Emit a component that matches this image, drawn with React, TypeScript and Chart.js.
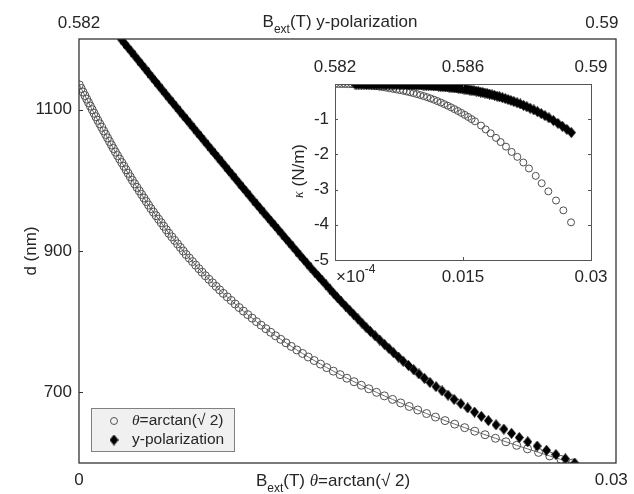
import React, { useEffect, useRef } from 'react';
import { Chart, registerables } from 'chart.js';

Chart.register(...registerables);

// ---------- data: theta = arctan(sqrt 2), main plot (B_ext bottom axis, d in nm) ----------
const circleB = [
  0.0000205, 0.000123, 0.000226, 0.000328, 0.000431, 0.000533, 0.000636, 0.000738, 0.000841, 0.000944,
  0.001049, 0.001158, 0.001268, 0.001377, 0.001486, 0.001596, 0.001705, 0.001814, 0.001923,
  0.002036, 0.002154, 0.002272, 0.002391, 0.002509, 0.002627, 0.002746, 0.002864, 0.002982,
  0.00311, 0.003239, 0.003369, 0.003498, 0.003627, 0.003757, 0.003886,
  0.004017, 0.004161, 0.004304, 0.004448, 0.004591, 0.004735, 0.004878,
  0.005024, 0.005184, 0.005344, 0.005504, 0.005664, 0.005824, 0.005984,
  0.006161, 0.006339, 0.006518, 0.006696, 0.006875,
  0.00706, 0.007259, 0.007458, 0.007657, 0.007857,
  0.008062, 0.008283, 0.008503, 0.008724, 0.008945,
  0.009183, 0.009427, 0.009671, 0.009915,
  0.010174, 0.010442, 0.01071, 0.010979,
  0.011271, 0.011565, 0.011859,
  0.012167, 0.012487, 0.012808,
  0.01314, 0.013491, 0.013842,
  0.014208, 0.014587, 0.014966,
  0.015368, 0.015773, 0.01619, 0.016623,
  0.017059, 0.017516, 0.017973, 0.018448, 0.018924, 0.019418, 0.019915,
  0.020449, 0.020989, 0.021547, 0.022109, 0.022684, 0.023265, 0.023853,
  0.024452, 0.025056, 0.025673, 0.026296, 0.026925, 0.027562,
];
const circleD = [
  1135, 1130, 1125, 1120, 1115, 1110, 1105, 1100, 1095, 1090,
  1085, 1080, 1075, 1070, 1065, 1060, 1055, 1050, 1045,
  1040, 1035, 1030, 1025, 1020, 1015, 1010, 1005, 1000,
  995, 990, 985, 980, 975, 970, 965,
  960, 955, 950, 945, 940, 935, 930,
  925, 920, 915, 910, 905, 900, 895,
  890, 885, 880, 875, 870,
  865, 860, 855, 850, 845,
  840, 835, 830, 825, 820,
  815, 810, 805, 800,
  795, 790, 785, 780,
  775, 770, 765,
  760, 755, 750,
  745, 740, 735,
  730, 725, 720,
  715, 710, 705, 700,
  695, 690, 685, 680, 675, 670, 665,
  660, 655, 650, 645, 640, 635, 630,
  625, 620, 615, 610, 605, 600,
];

// ---------- data: y-polarization, main plot (B_ext top axis, d in nm) ----------
const diamondB = [
  0.582626, 0.582677, 0.582728, 0.58278, 0.582831, 0.582882, 0.582933, 0.582984, 0.583035, 0.583087,
  0.583138, 0.583189, 0.58324, 0.583291, 0.583342,
  0.583394, 0.583446, 0.583499, 0.583551, 0.583603, 0.583655, 0.583707, 0.583759, 0.583811, 0.583864,
  0.583916, 0.583968, 0.58402, 0.584072, 0.584124, 0.584177, 0.584229, 0.584281, 0.584333, 0.584385,
  0.584437, 0.58449, 0.584542,
  0.584594, 0.584648, 0.584701, 0.584755, 0.584809, 0.584863, 0.584916, 0.58497, 0.585024, 0.585077,
  0.585131, 0.585185, 0.585239, 0.585292, 0.585346, 0.5854,
  0.585454, 0.585511, 0.585568, 0.585624, 0.585681, 0.585738, 0.585794, 0.585851,
  0.58591, 0.585971, 0.586032, 0.586093, 0.586155, 0.586216, 0.586277,
  0.586341, 0.586411, 0.58648, 0.586549, 0.586618, 0.586687, 0.586757,
  0.586829, 0.586908, 0.586986, 0.587065, 0.587144,
  0.587229, 0.587319, 0.587409, 0.587498, 0.587588,
  0.587688, 0.58779, 0.587892, 0.587994,
  0.588098, 0.588213, 0.588329, 0.588444, 0.588559,
  0.588685, 0.588825, 0.588965, 0.589105, 0.589245, 0.589385,
];
const diamondD = [
  1200, 1194, 1188, 1182, 1176, 1170, 1164, 1158, 1152, 1146,
  1140, 1134, 1128, 1122, 1116,
  1110, 1104, 1098, 1092, 1086, 1080, 1074, 1068, 1062, 1056,
  1050, 1044, 1038, 1032, 1026, 1020, 1014, 1008, 1002, 996,
  990, 984, 978,
  972, 966, 960, 954, 948, 942, 936, 930, 924, 918,
  912, 906, 900, 894, 888, 882,
  876, 870, 864, 858, 852, 846, 840, 834,
  828, 822, 816, 810, 804, 798, 792,
  786, 780, 774, 768, 762, 756, 750,
  744, 738, 732, 726, 720,
  714, 708, 702, 696, 690,
  684, 678, 672, 666,
  660, 654, 648, 642, 636,
  630, 624, 618, 612, 606, 600,
];

// ---------- inset: kappa (N/m, x1e-4) ----------
const insetCircleB = [
  0, 0.0004, 0.0008, 0.0012, 0.0016, 0.002, 0.0024, 0.0028, 0.0032, 0.0036,
  0.004, 0.0044, 0.0048, 0.0052, 0.0056, 0.006, 0.0064, 0.0068, 0.0072, 0.0076,
  0.008, 0.0084, 0.0088, 0.0092, 0.0096, 0.01, 0.0104, 0.0108, 0.0112, 0.0116,
  0.012, 0.0124, 0.0128, 0.0132, 0.0136, 0.014, 0.0144, 0.0148, 0.0152, 0.0156,
  0.016, 0.0164,
  0.01711, 0.01766, 0.01824, 0.01887, 0.01941, 0.02004, 0.0207, 0.02137, 0.02207, 0.02273,
  0.02352, 0.02422, 0.025, 0.0259, 0.02676, 0.02766,
];
const insetCircleK = [
  0, -0.0001, -0.0006, -0.0015, -0.0032, -0.0055, -0.009, -0.014, -0.02, -0.03,
  -0.04, -0.05, -0.063, -0.076, -0.09, -0.105, -0.12, -0.137, -0.155, -0.173,
  -0.193, -0.214, -0.237, -0.261, -0.287, -0.315, -0.344, -0.375, -0.41, -0.446,
  -0.486, -0.527, -0.571, -0.616, -0.664, -0.714, -0.766, -0.82, -0.877, -0.936,
  -0.997, -1.06,
  -1.18, -1.29, -1.4, -1.53, -1.65, -1.78, -1.93, -2.07, -2.23, -2.4,
  -2.61, -2.82, -3.05, -3.31, -3.59, -3.93,
];
const insetDiamondK = [
  0, 0, 0, 0, 0, 0, 0, 0, 0, 0,
  0, 0, 0, 0, 0,
  -0.001, -0.0013, -0.0016, -0.002, -0.0023, -0.0028, -0.0033, -0.0038, -0.0044, -0.005,
  -0.0059, -0.0067, -0.0076, -0.0085, -0.0096, -0.0107, -0.012, -0.0133, -0.0147, -0.0163,
  -0.0179, -0.0197, -0.0216,
  -0.0236, -0.0258, -0.028, -0.0305, -0.0332, -0.0359, -0.0388, -0.0419, -0.0452, -0.0486,
  -0.0522, -0.056, -0.06, -0.0641, -0.0685, -0.0731,
  -0.0779, -0.0831, -0.0888, -0.0944, -0.1005, -0.1068, -0.1133, -0.1201,
  -0.1275, -0.1356, -0.1438, -0.1525, -0.1617, -0.1711, -0.1808,
  -0.1915, -0.2038, -0.2164, -0.2294, -0.243, -0.257, -0.2718,
  -0.2878, -0.3061, -0.3248, -0.3447, -0.3654,
  -0.3885, -0.4141, -0.4409, -0.4686, -0.4978,
  -0.5317, -0.568, -0.6057, -0.6452,
  -0.6874, -0.7362, -0.7879, -0.8415, -0.8976,
  -0.9619, -1.0375, -1.117, -1.2003, -1.288, -1.38,
];

// ---------- ticks ----------
const mainXTicks = [0, 0.03];
const mainXLabels = ['0', '0.03  '];
const mainX2Ticks = [0.582, 0.59];
const mainX2Labels = ['0.582', '0.59      '];
const mainYTicks = [700, 900, 1100];
const mainYLabels = ['700', '900', '1100'];
const insetXTicks = [0, 0.015, 0.03];
const insetXLabels = ['', '0.015', '0.03'];
const insetX2Ticks = [0.582, 0.586, 0.59];
const insetX2Labels = ['0.582', '0.586', '0.59'];
const insetYTicks = [-5, -4, -3, -2, -1, 0];
const insetYLabels = ['-5', '-4', '-3', '-2', '-1', ''];

const seriesLabels = ['θ=arctan(√ 2)', 'y-polarization'];

const SANS = "'Liberation Sans', Arial, Helvetica, sans-serif";
const SERIF = "'Liberation Serif', 'Times New Roman', serif";
const INK = '#262626';
const FS = 17;

type Seg = { t: string; f: string; dy?: number };
function drawRich(ctx: CanvasRenderingContext2D, segs: Seg[], x: number, y: number, align: 'left' | 'center') {
  let w = 0;
  for (const s of segs) { ctx.font = s.f; w += ctx.measureText(s.t).width; }
  let cx = align === 'center' ? x - w / 2 : x;
  ctx.textAlign = 'left';
  for (const s of segs) {
    ctx.font = s.f;
    ctx.fillText(s.t, cx, y + (s.dy || 0));
    cx += ctx.measureText(s.t).width;
  }
}

function makeDiamond(w: number, h: number, color: string) {
  const c = document.createElement('canvas');
  c.width = w; c.height = h;
  const g = c.getContext('2d')!;
  g.fillStyle = color;
  g.beginPath();
  g.moveTo(w / 2, 0); g.lineTo(w, h / 2); g.lineTo(w / 2, h); g.lineTo(0, h / 2);
  g.closePath(); g.fill();
  return c;
}

function axis(ticks: number[], labels: string[], pad: number, min: number, max: number, position: string, fit: { w?: number; h?: number }) {
  return {
    type: 'linear',
    position,
    min, max,
    grid: { display: false, drawTicks: false },
    border: { display: false },
    ticks: {
      padding: pad, color: INK, font: { family: SANS, size: FS },
      autoSkip: false, maxRotation: 0, minRotation: 0,
      callback: (_v: any, i: number) => labels[i] ?? '',
    },
    afterBuildTicks: (s: any) => { s.ticks = ticks.map((v) => ({ value: v })); },
    afterFit: (s: any) => {
      if (fit.w !== undefined) s.width = fit.w;
      if (fit.h !== undefined) s.height = fit.h;
      s.paddingLeft = 0; s.paddingRight = 0; s.paddingTop = 0; s.paddingBottom = 0;
    },
  };
}

export default function App() {
  const mainRef = useRef<HTMLCanvasElement>(null);
  const insetRef = useRef<HTMLCanvasElement>(null);

  useEffect(() => {
    const diamondImg = makeDiamond(9, 11, '#000');

    const mainDecor = {
      id: 'mainDecor',
      afterDraw(chart: any) {
        const { ctx, chartArea: a, scales } = chart;
        ctx.save();
        ctx.strokeStyle = '#333';
        ctx.lineWidth = 1.3;
        ctx.strokeRect(a.left, a.top, a.right - a.left, a.bottom - a.top);
        ctx.lineWidth = 1;
        ctx.beginPath();
        for (const v of mainYTicks) {
          const y = Math.round(scales.y.getPixelForValue(v)) + 0.5;
          ctx.moveTo(a.left, y); ctx.lineTo(a.left + 4, y);
        }
        ctx.stroke();

        // titles
        ctx.fillStyle = INK;
        ctx.textBaseline = 'alphabetic';
        const big = `${FS}px ${SANS}`;
        const sub = `12px ${SANS}`;
        drawRich(ctx, [
          { t: 'B', f: big }, { t: 'ext', f: sub, dy: 6 }, { t: '(T) y-polarization', f: big },
        ], 340, 27, 'center');
        drawRich(ctx, [
          { t: 'B', f: big }, { t: 'ext', f: sub, dy: 6 }, { t: '(T) ', f: big },
          { t: 'θ', f: `italic ${FS}px ${SERIF}` }, { t: '=arctan(√ 2)', f: big },
        ], 333, 486, 'center');
        ctx.save();
        ctx.translate(31, 251);
        ctx.rotate(-Math.PI / 2);
        ctx.textBaseline = 'middle';
        ctx.textAlign = 'center';
        ctx.font = big;
        ctx.fillText('d (nm)', 0, 0);
        ctx.restore();

        // legend
        const lx = 91, ly = 408, lw = 143, lh = 43;
        ctx.fillStyle = '#f0f0f0';
        ctx.fillRect(lx, ly, lw, lh);
        ctx.strokeStyle = '#808080';
        ctx.lineWidth = 1;
        ctx.strokeRect(lx + 0.5, ly + 0.5, lw, lh);
        ctx.strokeStyle = '#555';
        ctx.beginPath();
        ctx.arc(114, 421, 3.5, 0, Math.PI * 2);
        ctx.stroke();
        ctx.drawImage(diamondImg, 114 - 4.5, 440 - 5.5);
        ctx.fillStyle = INK;
        ctx.textBaseline = 'middle';
        const lf = `15.5px ${SANS}`;
        drawRich(ctx, [
          { t: 'θ', f: `italic 15.5px ${SERIF}` }, { t: seriesLabels[0].slice(1), f: lf },
        ], 132, 421, 'left');
        drawRich(ctx, [{ t: seriesLabels[1], f: lf }], 132, 440, 'left');
        ctx.restore();
      },
    };

    const main = new Chart(mainRef.current!, {
      type: 'line',
      data: {
        datasets: [
          {
            label: seriesLabels[1],
            data: diamondB.map((b, i) => ({ x: b, y: diamondD[i] })),
            xAxisID: 'x2', yAxisID: 'y',
            showLine: false,
            pointStyle: diamondImg as any,
            pointRadius: 5,
          },
          {
            label: seriesLabels[0],
            data: circleB.map((b, i) => ({ x: b, y: circleD[i] })),
            xAxisID: 'x', yAxisID: 'y',
            showLine: true,
            borderColor: '#6e6e6e',
            borderWidth: 1,
            pointStyle: 'circle',
            pointRadius: 4,
            pointBorderWidth: 1,
            pointBorderColor: '#505050',
            pointBackgroundColor: 'rgba(0,0,0,0)',
            tension: 0,
          },
        ],
      },
      options: {
        animation: false,
        responsive: false,
        devicePixelRatio: 1,
        layout: { padding: { left: 0, top: 0, right: 18, bottom: 0 } },
        plugins: { legend: { display: false }, tooltip: { enabled: false } },
        scales: {
          x: axis(mainXTicks, mainXLabels, 7, 0, 0.03, 'bottom', { h: 31 }) as any,
          x2: axis(mainX2Ticks, mainX2Labels, 5, 0.582, 0.59, 'top', { h: 39 }) as any,
          y: axis(mainYTicks, mainYLabels, 7, 600, 1200, 'left', { w: 79 }) as any,
        },
      },
      plugins: [mainDecor],
    });

    const insetDecor = {
      id: 'insetDecor',
      beforeDatasetsDraw(chart: any) {
        const { ctx, chartArea: a } = chart;
        ctx.save();
        ctx.fillStyle = '#ffffff';
        ctx.fillRect(a.left, a.top, a.right - a.left, a.bottom - a.top);
        ctx.restore();
      },
      afterDraw(chart: any) {
        const { ctx, chartArea: a, scales } = chart;
        ctx.save();
        ctx.strokeStyle = '#555';
        ctx.lineWidth = 1;
        ctx.strokeRect(a.left + 0.5, a.top + 0.5, a.right - a.left, a.bottom - a.top);
        ctx.beginPath();
        for (const v of insetYTicks) {
          const y = Math.round(scales.y.getPixelForValue(v)) + 0.5;
          ctx.moveTo(a.left, y); ctx.lineTo(a.left + 3, y);
          ctx.moveTo(a.right, y); ctx.lineTo(a.right - 3, y);
        }
        for (const v of insetXTicks) {
          const x = Math.round(scales.x.getPixelForValue(v)) + 0.5;
          ctx.moveTo(x, a.bottom); ctx.lineTo(x, a.bottom - 3);
        }
        for (const v of insetX2Ticks) {
          const x = Math.round(scales.x2.getPixelForValue(v)) + 0.5;
          ctx.moveTo(x, a.top); ctx.lineTo(x, a.top + 3);
        }
        ctx.stroke();

        ctx.fillStyle = INK;
        ctx.textBaseline = 'middle';
        drawRich(ctx, [
          { t: '×', f: `${FS}px ${SANS}` }, { t: '10', f: `${FS}px ${SANS}` }, { t: '-4', f: `12px ${SANS}`, dy: -7 },
        ], 336, 277, 'left');

        ctx.save();
        ctx.translate(299, 171);
        ctx.rotate(-Math.PI / 2);
        ctx.textBaseline = 'middle';
        drawRich(ctx, [
          { t: 'κ', f: `italic 14px ${SERIF}` }, { t: ' (N/m)', f: `${FS}px ${SANS}` },
        ], 0, 0, 'center');
        ctx.restore();
        ctx.restore();
      },
    };

    const inset = new Chart(insetRef.current!, {
      type: 'line',
      data: {
        datasets: [
          {
            label: seriesLabels[1],
            data: diamondB.map((b, i) => ({ x: b, y: insetDiamondK[i] })),
            xAxisID: 'x2', yAxisID: 'y',
            showLine: false,
            pointStyle: diamondImg as any,
            pointRadius: 5,
          },
          {
            label: seriesLabels[0],
            data: insetCircleB.map((b, i) => ({ x: b, y: insetCircleK[i] })),
            xAxisID: 'x', yAxisID: 'y',
            showLine: false,
            pointStyle: 'circle',
            pointRadius: 3.5,
            pointBorderWidth: 1,
            pointBorderColor: '#505050',
            pointBackgroundColor: 'rgba(0,0,0,0)',
          },
        ],
      },
      options: {
        animation: false,
        responsive: false,
        devicePixelRatio: 1,
        layout: { padding: { left: 0, top: 0, right: 43, bottom: 0 } },
        plugins: { legend: { display: false }, tooltip: { enabled: false } },
        scales: {
          x: axis(insetXTicks, insetXLabels, 7, 0, 0.03, 'bottom', { h: 234 }) as any,
          x2: axis(insetX2Ticks, insetX2Labels, 6, 0.582, 0.59, 'top', { h: 84 }) as any,
          y: axis(insetYTicks, insetYLabels, 6, -5, 0, 'left', { w: 335 }) as any,
        },
      },
      plugins: [insetDecor],
    });

    return () => { main.destroy(); inset.destroy(); };
  }, []);

  return (
    <div style={{ position: 'absolute', left: 0, top: 0, width: 634, height: 494, background: '#fff' }}>
      <canvas ref={mainRef} width={634} height={494} style={{ position: 'absolute', left: 0, top: 0 }} />
      <canvas ref={insetRef} width={634} height={494} style={{ position: 'absolute', left: 0, top: 0 }} />
    </div>
  );
}
